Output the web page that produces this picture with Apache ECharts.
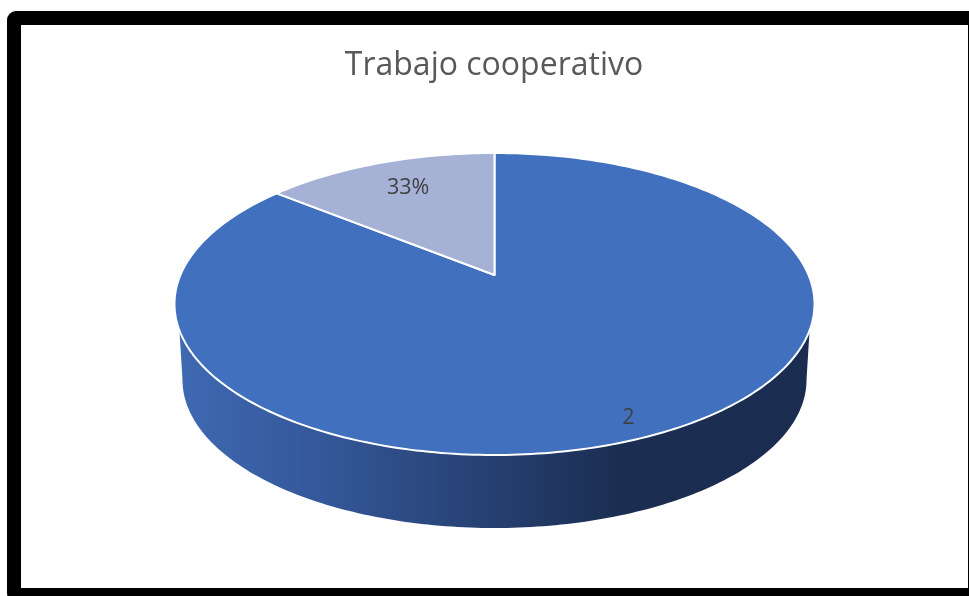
<!DOCTYPE html>
<html>
<head>
<meta charset="utf-8">
<style>html,body{margin:0;padding:0;background:#fff}#chart{width:969px;height:596px}</style>
<script src="https://cdn.jsdelivr.net/npm/echarts@6/dist/echarts.min.js"></script>
</head>
<body>
<div id="chart"></div>
<script>
// Slice values, clockwise from twelve o'clock, with the labels printed on them
const sliceValues = [2, 0.33];
const sliceLabels = ['2', '33%'];
const sliceColors = ['#4170BE', '#A5B2D6'];
const chartTitle = 'Trabajo cooperativo';

// Where each label sits inside its slice: fraction of the radius, angle nudge in radians
const labelRadius = [0.9, 0.745];
const labelNudge = [0.035, 0.015];

// Tilted disc: outline ellipse plus a perspective shift of the centre
const disc = { cx: 494.5, cy: 304, rx: 320, ry: 151, shift: 0.192 };
// Visible rim below the disc
const rim = { cx: 494.5, cy: 380, rx: 312, ry: 148, topY: 327 };

const total = sliceValues.reduce((a, b) => a + b, 0);

// Project a point of the flat disc (radius r, angle from twelve o'clock) on screen
function project(r, angle) {
  const px = r * Math.sin(angle);
  const py = -r * Math.cos(angle);
  const v = disc.shift;
  const w = 1 - v * py;
  return [
    disc.cx + disc.rx * px * Math.sqrt(1 - v * v) / w,
    disc.cy + disc.ry * (py - v) / w
  ];
}

function sliceStart(index) {
  let sum = 0;
  for (let i = 0; i < index; i++) sum += sliceValues[i];
  return sum / total * Math.PI * 2;
}

function renderSlice(params, api) {
  const i = params.dataIndex;
  const from = sliceStart(i);
  const sweep = api.value(0) / total * Math.PI * 2;
  const points = [project(0, 0)];
  const steps = Math.ceil(sweep * 60);
  for (let s = 0; s <= steps; s++) points.push(project(1, from + sweep * s / steps));
  const at = project(labelRadius[i], from + sweep / 2 + labelNudge[i]);
  return {
    type: 'group',
    children: [
      {
        type: 'polygon',
        shape: { points },
        style: { fill: sliceColors[i], stroke: '#FFFFFF', lineWidth: 2, lineJoin: 'round' }
      },
      {
        type: 'text',
        z2: 10,
        style: {
          text: sliceLabels[i],
          x: at[0],
          y: at[1],
          fill: '#404040',
          font: '21.5px "Open Sans"',
          align: 'center',
          verticalAlign: 'middle'
        }
      }
    ]
  };
}

// Front wall of the cylinder, seen under the lower half of the disc
function renderRim() {
  const points = [];
  const edgeY = (rim.topY - disc.cy) / disc.ry;
  const edgeX = disc.rx * Math.sqrt(1 - edgeY * edgeY);
  points.push([disc.cx - edgeX + 1, rim.topY]);
  for (let s = 0; s <= 160; s++) {
    const t = Math.PI - Math.PI * s / 160;
    points.push([rim.cx + rim.rx * Math.cos(t), rim.cy + rim.ry * Math.sin(t)]);
  }
  points.push([disc.cx + edgeX - 1, rim.topY]);
  points.push([disc.cx, disc.cy]);
  return {
    type: 'polygon',
    shape: { points },
    style: {
      fill: new echarts.graphic.LinearGradient(0, 0, 1, 0, [
        { offset: 0, color: '#3F69B2' },
        { offset: 0.22, color: '#34589A' },
        { offset: 0.5, color: '#263F70' },
        { offset: 0.7, color: '#1B2E52' },
        { offset: 1, color: '#1A2C4F' }
      ])
    }
  };
}

const chart = echarts.init(document.getElementById('chart'), null, { renderer: 'canvas' });
chart.setOption({
  animation: false,
  backgroundColor: '#fff',
  title: {
    text: chartTitle,
    left: 489,
    top: 45,
    textAlign: 'center',
    textStyle: { color: '#595959', fontFamily: 'Open Sans', fontWeight: 400, fontSize: 32 }
  },
  graphic: [{
    type: 'rect',
    z: -1,
    shape: { x: 14, y: 18, width: 961, height: 577, r: 2 },
    style: { fill: '#fff', stroke: '#000', lineWidth: 14 }
  }],
  series: [
    { type: 'custom', coordinateSystem: 'none', z: 1, silent: true, renderItem: renderRim, data: [[total]] },
    { type: 'custom', coordinateSystem: 'none', z: 2, silent: true, renderItem: renderSlice, data: sliceValues.map(v => [v]) }
  ]
});
</script>
</body>
</html>
